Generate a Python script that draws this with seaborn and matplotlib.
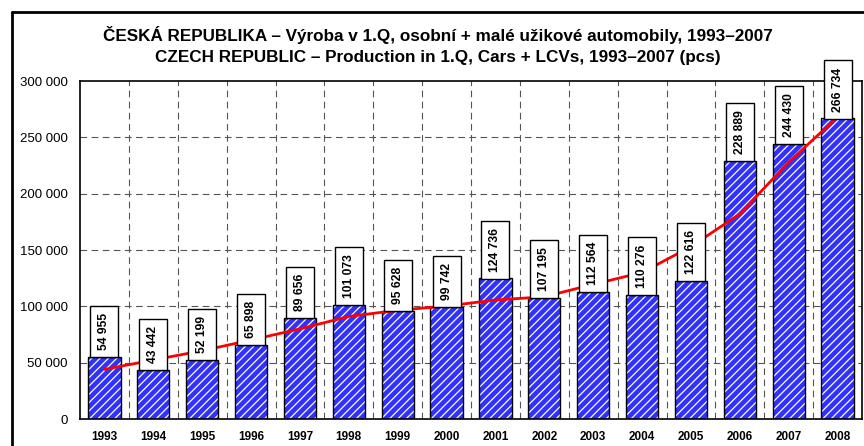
import numpy as np
import pandas as pd
import seaborn as sns
import matplotlib.pyplot as plt
from matplotlib.lines import Line2D
from matplotlib.ticker import FuncFormatter, FixedLocator

years = ['1993', '1994', '1995', '1996', '1997', '1998', '1999', '2000',
         '2001', '2002', '2003', '2004', '2005', '2006', '2007', '2008']
production = [54955, 43442, 52199, 65898, 89656, 101073, 95628, 99742,
              124736, 107195, 112564, 110276, 122616, 228889, 244430, 266734]
# red trend line
trend = [44000, 52400, 60600, 70100, 80000, 91000, 96500, 100300,
         105600, 108500, 119500, 130000, 153000, 182000, 228000, 268000]

title_cz = 'ČESKÁ REPUBLIKA – Výroba v 1.Q, osobní + malé užikové automobily, 1993–2007'
title_en = 'CZECH REPUBLIC – Production in 1.Q, Cars + LCVs, 1993–2007 (pcs)'

sns.set_style('white')
plt.rcParams['font.family'] = ['Liberation Sans', 'DejaVu Sans']
plt.rcParams['text.color'] = 'black'
plt.rcParams['xtick.color'] = 'black'
plt.rcParams['ytick.color'] = 'black'
plt.rcParams['hatch.linewidth'] = 0.9

df = pd.DataFrame({'year': years, 'pcs': production})

fig = plt.figure(figsize=(8.64, 4.46), dpi=100)
ax = fig.add_axes([80 / 864, 1 - 419 / 446, 782 / 864, 338 / 446])

# hatched blue fill (white stripes), then black outline on top
sns.barplot(data=df, x='year', y='pcs', ax=ax, color='#3030ff',
            width=0.66, saturation=1, zorder=2)
for p in ax.patches:
    p.set_hatch('////')
    p.set_edgecolor('white')
    p.set_linewidth(0)
sns.barplot(data=df, x='year', y='pcs', ax=ax, fill=False, color='black',
            width=0.66, linewidth=1.0, zorder=3)

pos = np.arange(len(years))
sns.lineplot(x=pos, y=trend, ax=ax, color='#ff0000', linewidth=2.0, zorder=4)

for i, v in enumerate(production):
    ax.annotate(f'{v:,}'.replace(',', ' '), xy=(i, v), xytext=(0, 5),
                textcoords='offset points', rotation=90, ha='center', va='bottom',
                fontsize=8.7, fontweight='bold', zorder=6, annotation_clip=False,
                bbox=dict(boxstyle='square,pad=0.58', mutation_aspect=1.15,
                          fc='white', ec='black', lw=1.0))

ax.set_ylim(0, 300000)
ax.set_xlim(-0.5, len(years) - 0.5)
ax.set_yticks(np.arange(0, 300001, 50000))
ax.yaxis.set_major_formatter(FuncFormatter(lambda v, _: f'{v:,.0f}'.replace(',', ' ')))
ax.xaxis.set_minor_locator(FixedLocator(np.arange(-0.5, len(years), 1.0)))
ax.tick_params(axis='x', which='major', length=0, pad=9, labelsize=8.5)
ax.tick_params(axis='x', which='minor', length=9, direction='inout', width=1)
ax.tick_params(axis='y', which='major', length=10, direction='inout', width=1,
               labelsize=9.5, pad=4)
for lab in ax.get_xticklabels():
    lab.set_fontweight('bold')
ax.set_xlabel('')
ax.set_ylabel('')

ax.grid(False)
for y in np.arange(50000, 300000, 50000):
    ax.axhline(y, color='#555555', linestyle=(0, (6, 4)), linewidth=0.8, zorder=1)
for x in np.arange(0.5, len(years) - 1, 1.0):
    ax.axvline(x, color='#555555', linestyle=(0, (6, 4)), linewidth=0.8, zorder=1)

for s in ax.spines.values():
    s.set_color('black')
    s.set_linewidth(1.2)

fig.text(438 / 864, 1 - 35.5 / 446, title_cz, ha='center', va='center',
         fontsize=12.3, fontweight='bold')
fig.text(438 / 864, 1 - 58 / 446, title_en, ha='center', va='center',
         fontsize=12.3, fontweight='bold')

# outer frame of the page figure
fig.add_artist(Line2D([12 / 864, 12 / 864], [0, 1 - 12 / 446], color='black', lw=2))
fig.add_artist(Line2D([12 / 864, 1], [1 - 12 / 446, 1 - 12 / 446], color='black', lw=2))

fig.savefig('out.png', dpi=100)
